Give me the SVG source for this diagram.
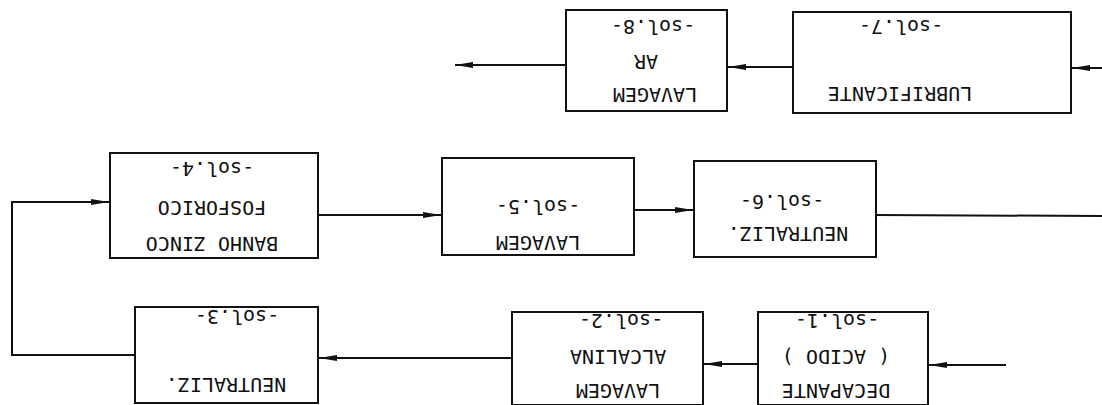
<svg xmlns="http://www.w3.org/2000/svg" width="1102" height="405" viewBox="0 0 1102 405">
<style>
.box{fill:#fff;stroke:#111;stroke-width:2}
.ln{fill:none;stroke:#111;stroke-width:2}
text{font-family:"DejaVu Sans Mono","Liberation Mono",monospace;font-size:20px;fill:#111;text-anchor:middle;dominant-baseline:central}
</style>
<defs>
<marker id="ah" markerWidth="18" markerHeight="8" refX="18" refY="4" orient="auto" markerUnits="userSpaceOnUse">
<path d="M0,1 L18,4 L0,7 Z" fill="#111"/>
</marker>
</defs>
<rect width="1102" height="405" fill="#fff"/>
<g id="connectors">
<line class="ln" x1="1102" y1="68" x2="1072" y2="68" marker-end="url(#ah)"/>
<line class="ln" x1="793" y1="67" x2="728" y2="67" marker-end="url(#ah)"/>
<line class="ln" x1="566" y1="65" x2="455" y2="65" marker-end="url(#ah)"/>
<line class="ln" x1="1102" y1="216" x2="876" y2="215"/>
<line class="ln" x1="634" y1="210" x2="693" y2="210" marker-end="url(#ah)"/>
<line class="ln" x1="318" y1="215" x2="441" y2="215" marker-end="url(#ah)"/>
<polyline class="ln" points="135,355 12,355 12,202 109,202" marker-end="url(#ah)"/>
<line class="ln" x1="1006" y1="365" x2="929" y2="365" marker-end="url(#ah)"/>
<line class="ln" x1="758" y1="364" x2="704" y2="364" marker-end="url(#ah)"/>
<line class="ln" x1="512" y1="358" x2="319" y2="358" marker-end="url(#ah)"/>
</g>
<g id="n7">
<rect class="box" x="793" y="12" width="278" height="101"/>
<text x="900" y="94" transform="rotate(180 900 94)">LUBRIFICANTE</text>
<text x="901" y="27" transform="rotate(180 901 27)">-sol.7-</text>
</g>
<g id="n8">
<rect class="box" x="566" y="10" width="161" height="101"/>
<text x="655" y="95" transform="rotate(180 655 95)">LAVAGEM</text>
<text x="646" y="62" transform="rotate(180 646 62)">AR</text>
<text x="653" y="27" transform="rotate(180 653 27)">-sol.8-</text>
</g>
<g id="n4">
<rect class="box" x="110" y="153" width="208" height="105"/>
<text x="212" y="244" transform="rotate(180 212 244)">BANHO ZINCO</text>
<text x="212" y="208" transform="rotate(180 212 208)">FOSFORICO</text>
<text x="212" y="169" transform="rotate(180 212 169)">-sol.4-</text>
</g>
<g id="n5">
<rect class="box" x="442" y="158" width="192" height="97"/>
<text x="538" y="243" transform="rotate(180 538 243)">LAVAGEM</text>
<text x="538" y="207" transform="rotate(180 538 207)">-sol.5-</text>
</g>
<g id="n6">
<rect class="box" x="694" y="161" width="182" height="96"/>
<text x="788" y="234" transform="rotate(180 788 234)">NEUTRALIZ.</text>
<text x="782" y="202" transform="rotate(180 782 202)">-sol.6-</text>
</g>
<g id="n3">
<rect class="box" x="135" y="307" width="183" height="96"/>
<text x="226" y="385" transform="rotate(180 226 385)">NEUTRALIZ.</text>
<text x="237" y="317" transform="rotate(180 237 317)">-sol.3-</text>
</g>
<g id="n2">
<rect class="box" x="512" y="312" width="191" height="93"/>
<text x="618" y="391" transform="rotate(180 618 391)">LAVAGEM</text>
<text x="618" y="357" transform="rotate(180 618 357)">ALCALINA</text>
<text x="621" y="321" transform="rotate(180 621 321)">-sol.2-</text>
</g>
<g id="n1">
<rect class="box" x="758" y="312" width="170" height="93"/>
<text x="836" y="391" transform="rotate(180 836 391)">DECAPANTE</text>
<text x="836" y="357" transform="rotate(180 836 357)">( ACIDO )</text>
<text x="837" y="321" transform="rotate(180 837 321)">-sol.1-</text>
</g>
</svg>
